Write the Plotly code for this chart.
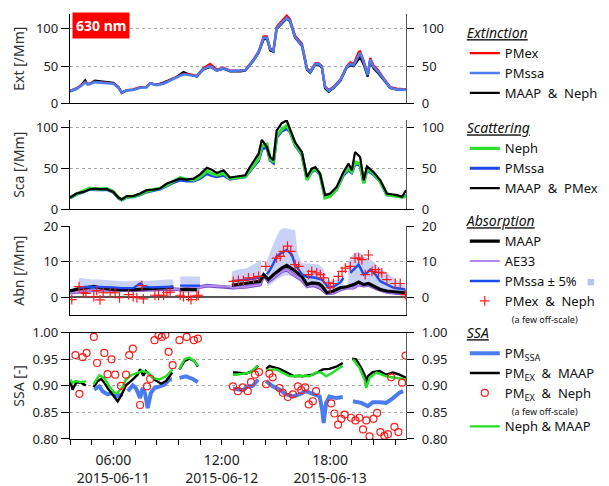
import pandas as pd
import plotly.graph_objects as go

# ---------------- data (time in hours since 2015-06-10 00:00) ----------------
BASE = pd.Timestamp("2015-06-10 00:00")

# Panel 1 - Extinction [/Mm]
ext_hours = [18.0, 19.9, 21.2, 22.2, 22.8, 23.5, 24.9, 26.3, 28.2, 30.0, 31.4, 32.3, 33.7, 35.5,
             37.4, 39.2, 40.2, 42.0, 43.9, 45.7, 47.5, 49.4, 51.2, 53.1, 54.9, 56.8, 58.6, 60.5,
             62.3, 65.1, 66.5, 68.8, 70.2, 71.6, 72.5, 73.4, 74.3, 75.2, 76.6, 78.0, 78.9, 80.3,
             82.2, 83.6, 84.5, 85.9, 86.8, 87.7, 88.6, 89.6, 90.9, 92.8, 94.6, 95.6, 96.5, 97.9,
             98.3, 99.3, 100.4, 101.1, 102.0, 103.4, 104.8, 106.6, 108.5, 110.3, 111.0]
ext_pmex = [17, 20.5, 25, 28.5, 27, 26.5, 29, 28.5, 28, 27, 21.5, 15, 18, 18.5, 22, 22, 27.5, 25,
            27, 31.5, 35.5, 39.5, 39, 37, 47.5, 53, 45.5, 48, 44, 44, 45, 59, 70, 90, 90, 74, 71,
            103, 111, 118, 113, 91, 80, 47, 43, 54, 54, 50, 23, 18, 22, 32, 50, 55, 53, 69, 70,
            57, 39, 61, 51, 44, 34, 22, 20, 19, 19]
ext_pmssa = [16.5, 20, 24, 28, 26.5, 25.8, 28.5, 28, 27.5, 26.5, 21, 14.5, 17.5, 18, 21, 21.5, 27,
             24.5, 26.5, 31, 35, 39, 38, 36.5, 46, 50, 44.5, 47, 43.5, 43.5, 44.5, 58, 69, 88, 88,
             73, 70, 101, 108, 115, 111, 89, 78, 46, 42, 53, 53, 49, 22, 17, 21, 31, 49, 53, 51,
             66, 68, 55, 38, 59, 49, 42, 33, 21, 18.7, 18.5, 18.5]
ext_maap_neph = [16, 19.5, 25, 31, 25.5, 26, 30.5, 29.5, 29, 27.5, 22, 14, 17.5, 18.5, 21.5, 22,
                 26.5, 25, 28, 32, 35.5, 42, 38.5, 36, 45.5, 49, 44, 46.5, 43, 43, 44, 57.5, 68,
                 86, 87, 71, 69, 100, 107, 114, 110, 88, 77, 45, 41, 52, 52, 48, 20, 15.5, 20.5,
                 30, 48, 51, 50, 60, 62, 52, 36, 57, 47, 40, 32, 20.5, 18.5, 18.5, 18.5]

# Panel 2 - Scattering [/Mm]
sca_hours = [18.0, 19.8, 21.7, 23.5, 24.9, 26.3, 28.2, 30.0, 31.4, 32.3, 33.7, 35.5, 37.4, 39.2,
             41.1, 42.9, 44.8, 46.6, 48.5, 50.3, 52.2, 54.0, 55.9, 57.2, 58.6, 60.5, 62.3, 63.2,
             66.5, 67.8, 69.2, 70.2, 71.1, 72.5, 73.4, 74.3, 75.2, 76.6, 78.0, 78.9, 80.3, 82.2,
             83.6, 84.9, 85.9, 87.2, 88.6, 90.0, 91.8, 93.7, 95.1, 96.0, 96.9, 98.3, 99.3, 100.2,
             102.0, 103.9, 105.7, 108.5, 109.9, 111.0]
sca_neph = [14.6, 19, 22.5, 26, 25, 25.5, 25.5, 22, 14.6, 12, 15.5, 16, 18.5, 22.5, 24, 26, 30, 34,
            39, 37, 36, 40, 47, 44, 42, 44, 38, 38.5, 40.5, 48, 57, 62, 78, 80, 62, 58, 90, 98,
            103, 96, 80, 68, 36, 47, 50, 44, 14, 16, 25, 44, 50, 46, 58, 56, 32, 50, 44, 34, 18,
            16.5, 15, 16]
sca_pmssa = [14, 18.5, 21.5, 25, 24, 24.5, 24.5, 21, 14, 11.5, 15, 15.5, 18, 21.5, 23, 25, 29, 33,
             36, 35, 35, 38, 44, 41.5, 40, 42, 37, 38, 40, 47, 55, 60, 74, 76, 60, 57, 88, 96, 99,
             95, 79, 67, 37, 46, 49, 43, 15, 16.5, 25, 42, 48, 45, 56, 54, 33, 48, 43, 34, 18,
             16.5, 15.5, 17]
sca_maap_pmex = [14.6, 19.5, 21.5, 24.8, 25.6, 24.8, 24.8, 21.5, 14.6, 12.2, 16.3, 16.3, 19.5,
                 23.6, 24.4, 25.6, 31.7, 35, 37.8, 36.6, 37.8, 43, 51.2, 48.8, 44.7, 48, 39,
                 39.8, 41.9, 52, 62, 68.3, 85.4, 76.4, 64.2, 60.2, 96.7, 105.7, 109, 98.8, 82.5,
                 70.3, 39.8, 50, 52, 43.9, 17.5, 19.5, 27.6, 45.9, 56.1, 48, 70.3, 64.2, 35.8,
                 52.8, 45.9, 35.8, 19.5, 17.5, 15.4, 23.6]

# Panel 3 - Absorption [/Mm]  (hour, value); None = data gap
abs_maap = [(18.0, 1.8), (20.3, 2.4), (22.5, 2.7), (24.5, 3.1), (26.3, 2.7), (30.0, 2.2),
            (35.5, 2.2), (40.2, 2.4), (44.8, 2.7), (46.6, 2.9), (47.5, None), (48.5, 2.2),
            (53.1, 2.2), (58.0, None), (62.8, 3.4), (66.9, 3.9), (70.6, 4.5), (71.6, 6.4),
            (72.9, 5.0), (74.3, 6.4), (76.6, 8.2), (78.0, 9.0), (79.8, 7.8), (82.2, 5.9),
            (83.6, 3.6), (85.0, 4.1), (86.8, 3.9), (87.7, 3.2), (89.1, 1.3), (90.9, 1.8),
            (92.8, 2.7), (94.6, 3.0), (96.5, 3.6), (97.9, 4.3), (99.3, 3.6), (100.6, 3.9),
            (102.0, 3.2), (103.9, 2.2), (105.7, 1.8), (108.5, 1.5), (110.8, 1.3)]
abs_ae33 = [(18.0, 1.3), (26.3, 2.2), (35.5, 2.0), (44.8, 2.4), (48.5, 2.2), (53.1, 2.7),
            (55.9, 3.3), (59.5, 3.1), (62.3, 3.0), (63.2, 2.7), (66.9, 3.0), (70.6, 3.6),
            (71.6, 6.4), (72.9, 4.5), (74.3, 5.5), (76.6, 7.3), (78.0, 7.8), (79.8, 6.4),
            (82.2, 5.0), (83.6, 3.1), (85.4, 3.4), (87.2, 2.7), (89.1, 1.1), (90.9, 1.3),
            (92.8, 2.2), (94.6, 2.7), (96.5, 2.7), (97.9, 3.6), (99.3, 3.3), (100.6, 3.5),
            (103.0, 2.4), (105.7, 1.5), (108.5, 1.2), (110.8, 1.1)]
abs_pmssa = [(20.5, 2.6), (22.0, 2.9), (24.0, 3.0), (26.3, 2.9), (28.2, 3.0), (30.0, 2.8),
             (32.3, 2.6), (35.5, 2.6), (37.4, 3.9), (38.6, 3.0), (40.2, 2.8), (42.0, 2.9),
             (44.8, 3.0), (46.6, 3.0), (47.5, None), (48.5, 3.3), (50.3, 3.3), (52.2, 3.2),
             (54.0, 3.3), (58.0, None), (62.8, 4.5), (64.6, 4.7), (66.9, 5.0), (69.2, 5.3),
             (70.9, 5.8), (71.7, None), (72.5, 6.5), (73.4, 7.8), (74.3, 9.5), (75.2, 11.5),
             (76.6, 12.5), (78.0, 13.3), (79.4, 12.0), (80.3, 9.2), (81.3, 7.8), (82.2, 6.5),
             (83.6, 5.8), (85.9, 5.5), (87.7, 5.0), (89.6, 2.7), (90.9, 3.0), (92.8, 4.2),
             (93.7, 5.5), (94.6, None), (95.6, 6.9), (97.9, 9.2), (99.3, 6.4), (100.2, 6.9),
             (101.1, 7.8), (102.5, 6.5), (103.9, 4.5), (105.7, 3.6), (107.6, 2.7), (110.8, 2.2)]
# PMssa +/- 5 % uncertainty band: (hour, lower, upper)
abs_band = [(20.5, 1.0, 5.5), (22.0, 1.2, 5.2), (24.0, 1.4, 5.0), (26.3, 1.4, 5.0),
            (28.2, 1.5, 4.8), (30.0, 1.4, 4.6), (32.3, 1.4, 4.5), (35.5, 1.4, 4.5),
            (37.4, 1.6, 4.8), (38.6, 1.5, 4.6), (40.2, 1.5, 4.6), (42.0, 1.6, 4.8),
            (44.8, 1.6, 5.0), (46.6, 1.6, 5.0), (47.5, None, None),
            (48.5, 1.2, 5.9), (50.3, 1.2, 6.0), (52.2, 1.3, 5.9), (54.0, 1.3, 5.8),
            (58.0, None, None),
            (62.8, 2.2, 7.3), (64.6, 2.3, 7.8), (66.9, 2.5, 8.2), (69.2, 2.8, 9.5),
            (70.9, 3.2, 10.5), (71.7, None, None),
            (72.5, 3.0, 10.5), (73.4, 3.5, 12.9), (74.3, 4.2, 15.0), (75.2, 5.0, 17.0),
            (76.2, 5.5, 19.0), (77.1, 6.0, 19.4), (78.0, 6.2, 19.4), (79.4, 6.0, 19.0),
            (80.3, 5.5, 18.9), (81.0, 4.8, 12.5), (82.2, 4.0, 9.6), (83.6, 2.5, 9.6),
            (85.0, 2.8, 9.4), (86.8, 2.6, 9.2), (88.2, 1.8, 8.0), (89.1, 0.9, 5.0),
            (90.0, 0.8, 4.6), (91.8, 1.6, 5.0), (93.7, 2.2, 5.8), (94.6, None, None),
            (95.0, 2.5, 10.0), (96.5, 3.0, 12.4), (97.9, 3.2, 12.9), (99.3, 3.0, 11.5),
            (100.6, 3.0, 11.0), (102.0, 2.6, 10.0), (103.4, 2.2, 8.5), (104.8, 1.8, 7.5),
            (106.6, 1.2, 6.2), (108.5, 0.9, 4.8), (110.8, 0.7, 3.5)]
abs_pmex_neph = [(18.5, -0.6), (20.5, 3.0), (21.7, 1.3), (22.4, 1.1), (24.6, 0.2), (25.4, 1.9),
                 (26.3, -0.7), (27.2, 1.3), (29.1, 1.3), (30.5, 1.3), (31.7, -0.1), (34.2, 0.8),
                 (35.5, 0.2), (36.5, -0.1), (37.9, 3.3), (38.3, -0.4), (41.5, 0.6), (42.5, 0.6),
                 (43.9, 0.6), (44.8, 1.3), (45.7, 1.5), (48.5, 0.6), (49.4, 0.2), (50.8, 0.2),
                 (51.5, -0.6), (53.1, 0.4), (53.5, 0.6), (63.2, 4.5), (64.6, 4.8), (66.0, 4.8),
                 (67.4, 5.5), (68.8, 5.5), (70.2, 5.9), (72.2, 8.7), (75.2, 11.0), (76.2, 11.5),
                 (77.1, 12.9), (78.2, 14.4), (79.1, 12.9), (80.3, 9.2), (81.3, 8.7), (84.0, 6.4),
                 (84.9, 7.3), (86.3, 6.9), (87.3, 6.4), (88.2, 5.5), (89.6, 4.1), (90.0, 2.7),
                 (90.9, 3.9), (92.3, 5.9), (93.3, 7.3), (94.2, 8.2), (95.6, 8.7), (96.9, 11.0),
                 (97.9, 11.0), (98.8, 10.6), (99.7, 6.4), (100.6, 11.9), (101.6, 7.3),
                 (102.5, 7.8), (103.4, 7.0), (104.3, 6.9), (105.7, 5.0), (108.0, 3.9),
                 (109.4, 3.9), (110.8, 0.8)]

# Panel 4 - single scattering albedo [-]
ssa_pm = [(24.7, 0.893), (26.1, 0.899), (27.0, 0.890), (28.4, 0.884), (29.8, 0.887),
          (31.2, 0.881), (32.6, 0.884), (33.3, None), (34.0, 0.890), (35.4, 0.901),
          (36.3, 0.895), (36.9, 0.885), (37.4, 0.877), (38.1, 0.896), (38.8, 0.885),
          (39.5, 0.858), (40.4, 0.887), (41.4, 0.896), (42.7, 0.898), (44.1, 0.902),
          (45.5, 0.912), (46.2, 0.912), (47.2, None), (48.3, 0.915), (50.1, 0.918),
          (52.0, 0.913), (53.4, 0.907), (58.0, None), (63.1, 0.895), (64.5, 0.893),
          (65.8, 0.892), (67.2, 0.899), (68.6, 0.900), (70.1, 0.912), (71.3, None),
          (72.3, 0.909), (74.1, 0.899), (76.0, 0.893), (77.8, 0.884), (79.7, 0.880),
          (81.5, 0.884), (83.3, 0.890), (84.3, 0.887), (85.7, 0.884), (87.1, 0.880),
          (87.8, 0.855), (88.2, 0.830), (88.9, 0.868), (89.8, 0.880), (91.7, 0.877),
          (93.5, 0.879), (94.7, None), (96.3, 0.871), (98.6, 0.868), (100.4, 0.862),
          (101.8, 0.869), (103.7, 0.869), (105.5, 0.868), (107.4, 0.877), (109.2, 0.887),
          (110.2, 0.890)]
ssa_pmex_maap = [(18.0, 0.911), (18.7, 0.893), (19.7, 0.906), (21.0, 0.906), (22.4, 0.901),
                 (23.4, None), (24.5, 0.898), (25.7, 0.909), (26.6, 0.913), (27.5, 0.906),
                 (28.4, 0.896), (29.8, 0.884), (31.2, 0.871), (32.1, 0.881), (33.5, 0.901),
                 (35.4, 0.912), (36.7, 0.921), (37.4, 0.931), (38.3, 0.919), (39.0, 0.928),
                 (40.2, 0.919), (41.4, 0.912), (43.2, 0.904), (44.6, 0.909), (46.3, 0.925),
                 (47.3, None), (48.3, 0.931), (49.7, 0.947), (51.0, 0.951), (52.4, 0.947),
                 (53.4, 0.936), (58.0, None), (63.1, 0.925), (64.0, 0.925), (66.8, 0.923),
                 (68.6, 0.928), (70.0, 0.938), (71.2, None), (72.3, 0.932), (73.2, 0.937),
                 (76.0, 0.932), (78.8, 0.923), (80.1, 0.918), (81.5, 0.919), (82.4, 0.918),
                 (85.2, 0.921), (88.0, 0.931), (89.8, 0.932), (91.7, 0.936), (93.5, 0.943),
                 (94.8, None), (96.1, 0.951), (97.2, 0.950), (98.6, 0.934), (99.5, 0.921),
                 (100.0, 0.906), (100.4, 0.918), (101.8, 0.926), (103.7, 0.928), (105.5, 0.921),
                 (107.4, 0.925), (109.2, 0.921), (111.0, 0.915)]
ssa_neph_maap = [(18.0, 0.912), (18.7, 0.906), (19.7, 0.909), (21.0, 0.907), (22.4, 0.909),
                 (23.4, None), (24.5, 0.903), (26.1, 0.920), (27.5, 0.915), (28.9, 0.899),
                 (30.3, 0.887), (31.2, 0.887), (32.6, 0.899), (33.5, 0.912), (34.9, 0.920),
                 (36.7, 0.925), (38.1, 0.928), (39.5, 0.925), (40.9, 0.915), (42.7, 0.912),
                 (44.6, 0.918), (46.4, 0.931), (47.3, None), (48.3, 0.932), (49.7, 0.950),
                 (51.0, 0.953), (52.4, 0.947), (53.4, 0.937), (58.0, None), (63.1, 0.921),
                 (64.0, 0.921), (67.7, 0.925), (69.5, 0.934), (70.0, 0.938), (71.2, None),
                 (72.3, 0.930), (75.1, 0.931), (78.8, 0.918), (81.5, 0.919), (84.3, 0.918),
                 (86.1, 0.925), (87.5, 0.925), (88.9, 0.918), (90.7, 0.925), (93.5, 0.938),
                 (94.8, None), (96.3, 0.950), (98.1, 0.934), (99.5, 0.912), (100.0, 0.896),
                 (100.9, 0.915), (102.8, 0.925), (105.5, 0.918), (108.3, 0.915), (111.0, 0.912)]
ssa_pmex_neph = [(19.5, 0.958), (20.6, 0.885), (21.5, 0.954), (22.6, 0.962), (24.6, 0.992),
                 (25.5, 0.943), (27.5, 0.962), (28.4, 0.922), (29.5, 0.950), (30.5, 0.921),
                 (32.1, 0.900), (33.5, 0.921), (34.4, 0.958), (35.4, 0.970), (37.4, 0.864),
                 (39.3, 0.899), (40.2, 0.913), (41.4, 0.986), (42.5, 0.995), (43.4, 0.992),
                 (44.4, 0.996), (45.3, 0.964), (46.4, 0.939), (48.3, 0.986), (50.3, 0.992),
                 (52.3, 0.986), (53.4, 0.989), (63.1, 0.899), (64.5, 0.890), (65.8, 0.897),
                 (67.2, 0.890), (68.1, 0.907), (69.2, 0.921), (70.3, 0.926), (72.3, 0.903),
                 (73.2, 0.923), (74.1, 0.916), (76.0, 0.896), (76.9, 0.887), (78.3, 0.879),
                 (79.7, 0.884), (81.1, 0.899), (82.0, 0.892), (83.1, 0.897), (84.1, 0.865),
                 (85.2, 0.871), (86.1, 0.890), (90.3, 0.867), (91.2, 0.848), (92.2, 0.827),
                 (93.1, 0.838), (94.0, 0.846), (95.8, 0.840), (97.0, 0.835), (98.1, 0.840),
                 (99.1, 0.818), (100.0, 0.835), (100.9, 0.805), (102.0, 0.838), (103.0, 0.849),
                 (103.9, 0.813), (105.0, 0.806), (106.0, 0.809), (106.9, 0.916), (107.8, 0.823),
                 (108.9, 0.813), (109.9, 0.906), (110.9, 0.957)]

x_range_hours = [18.0, 111.0]
label_hours = [30, 60, 90]
label_texts = ["06:00<br>2015-06-11", "12:00<br>2015-06-12", "18:00<br>2015-06-13"]
minor_tick_step_hours = 6


# ---------------- helpers ----------------
def t(h):
    return None if h is None else BASE + pd.Timedelta(hours=h)


def ts(hours):
    return [t(h) for h in hours]


def unzip(pairs):
    return [t(p[0]) for p in pairs], [p[1] for p in pairs]


def band_polygon(rows):
    xs, ys, seg = [], [], []
    for r in rows + [(None, None, None)]:
        if r[1] is None:
            if seg:
                xs += [t(s[0]) for s in seg] + [t(s[0]) for s in reversed(seg)] + [None]
                ys += [s[2] for s in seg] + [s[1] for s in reversed(seg)] + [None]
            seg = []
        else:
            seg.append(r)
    return xs, ys


FONT = "Noto Sans"
RED = "#ff1a1a"
NB = "\u00a0"
OFFSCALE = f"<br><span style='font-size:9px'>{NB * 3}(a few off-scale)</span>"
fig = go.Figure()


def line(x, y, name, color, width, xa, ya, legend, rank, show=True):
    fig.add_trace(go.Scatter(x=x, y=y, mode="lines", name=name, xaxis=xa, yaxis=ya,
                             line=dict(color=color, width=width),
                             legend=legend, legendrank=rank, showlegend=show,
                             connectgaps=False, hoverinfo="skip"))


# Panel 1: Extinction
line(ts(ext_hours), ext_maap_neph, f"MAAP{NB*2}&{NB*2}Neph", "#000000", 2.2, "x", "y", "legend", 3)
line(ts(ext_hours), ext_pmex, "PMex", "#ff0000", 2.2, "x", "y", "legend", 1)
line(ts(ext_hours), ext_pmssa, "PMssa", "#4c7df0", 2.6, "x", "y", "legend", 2)

# Panel 2: Scattering
line(ts(sca_hours), sca_pmssa, "PMssa", "#1c44ea", 3.0, "x2", "y2", "legend2", 2)
line(ts(sca_hours), sca_neph, "Neph", "#2ee02e", 3.2, "x2", "y2", "legend2", 1)
line(ts(sca_hours), sca_maap_pmex, f"MAAP{NB*2}&{NB*2}PMex", "#000000", 2.2, "x2", "y2", "legend2", 3)

# Panel 3: Absorption
bx, by = band_polygon(abs_band)
fig.add_trace(go.Scatter(x=bx, y=by, mode="lines", fill="toself", fillcolor="#c9d1f7",
                         line=dict(width=0, color="#c9d1f7"), xaxis="x3", yaxis="y3",
                         showlegend=False, hoverinfo="skip"))
ax, ay = unzip(abs_ae33)
line(ax, ay, "AE33 outline", "#7a4cc4", 3.6, "x3", "y3", "legend3", 9, show=False)
line(ax, ay, "AE33", "#b48af2", 2.0, "x3", "y3", "legend3", 2)
mx, my = unzip(abs_maap)
line(mx, my, "MAAP", "#000000", 3.2, "x3", "y3", "legend3", 1)
px, py = unzip(abs_pmssa)
line(px, py, f"PMssa ± 5%{NB*3}<span style='color:#b8c2f2'>■</span>", "#1a4cf0", 2.4,
     "x3", "y3", "legend3", 3)
cx, cy = unzip(abs_pmex_neph)
fig.add_trace(go.Scatter(x=cx, y=cy, mode="markers", xaxis="x3", yaxis="y3",
                         name=f"PMex{NB*2}&{NB*2}Neph" + OFFSCALE,
                         marker=dict(symbol="cross-thin", size=7, color=RED,
                                     line=dict(color=RED, width=1.2)),
                         legend="legend3", legendrank=4, hoverinfo="skip"))

# Panel 4: SSA
sx, sy = unzip(ssa_pm)
line(sx, sy, "PM<sub>SSA</sub>", "#4a7cf0", 4.0, "x4", "y4", "legend4", 1)
kx, ky = unzip(ssa_pmex_maap)
line(kx, ky, f"PM<sub>EX</sub>{NB*2}&{NB*2}MAAP", "#000000", 2.4, "x4", "y4", "legend4", 2)
gx, gy = unzip(ssa_neph_maap)
line(gx, gy, "Neph & MAAP", "#22e022", 2.4, "x4", "y4", "legend5", 4)
ox, oy = unzip(ssa_pmex_neph)
fig.add_trace(go.Scatter(x=ox, y=oy, mode="markers", xaxis="x4", yaxis="y4",
                         name=f"PM<sub>EX</sub>{NB*2}&{NB*2}Neph" + OFFSCALE,
                         marker=dict(symbol="circle-open", size=7, color=RED, line=dict(width=1.2)),
                         legend="legend4", legendrank=3, hoverinfo="skip"))

# ---------------- axes ----------------
doms = {1: [0.7897, 1.0], 2: [0.5401, 0.7504], 3: [0.2913, 0.5008], 4: [0.0, 0.2501]}
yranges = {1: [0, 120], 2: [0, 109.5], 3: [-5, 20], 4: [0.8, 1.0]}
yticks = {1: [0, 50, 100], 2: [0, 50, 100], 3: [0, 10, 20], 4: [0.80, 0.85, 0.90, 0.95, 1.00]}
ytitles = {1: "Ext [/Mm]", 2: "Sca [/Mm]", 3: "Abn [/Mm]", 4: "SSA [-]"}
ystandoff = {1: 8, 2: 8, 3: 15, 4: 4}
ytickfont = dict(family=FONT, size=13, color="#222222")
xtickfont = dict(family=FONT, size=14, color="#222222")
xr = [t(x_range_hours[0]), t(x_range_hours[1])]

lay = {}
for i in range(1, 5):
    xs = "" if i == 1 else str(i)
    common_x = dict(domain=[0, 1], anchor="y" + xs, range=xr, showgrid=False, zeroline=False,
                    showline=True, linecolor="#000000", linewidth=1.3, automargin=False)
    if i < 4:
        common_x.update(showticklabels=False, ticks="")
    else:
        common_x.update(tickmode="array", tickvals=ts(label_hours), ticktext=label_texts,
                        ticks="outside", ticklen=5, tickwidth=1.2, tickcolor="#000000",
                        mirror=True, tickfont=xtickfont, ticklabelstandoff=3,
                        minor=dict(dtick=minor_tick_step_hours * 3600 * 1000,
                                   tick0=str(t(x_range_hours[0])), ticks="outside",
                                   ticklen=5, tickwidth=1.2, tickcolor="#000000",
                                   showgrid=False))
    if i > 1:
        common_x["matches"] = "x"
    lay["xaxis" + xs] = common_x

    ycommon = dict(range=yranges[i], tickmode="array", tickvals=yticks[i],
                   ticks="outside", tickwidth=1.2, tickcolor="#000000",
                   tickfont=ytickfont, showline=True, linewidth=1.3, automargin=False)
    if i == 4:
        ycommon["tickformat"] = ".2f"
    left = dict(ycommon, domain=doms[i], anchor="x" + xs, linecolor="#000000", ticklen=8,
                showgrid=True, gridcolor="#a8a8a8", griddash="dot", gridwidth=1,
                zeroline=(i == 3), zerolinecolor="#555555", zerolinewidth=1.5,
                title=dict(text=ytitles[i], font=dict(family=FONT, size=14, color="#333333"),
                           standoff=ystandoff[i]))
    lay["yaxis" + xs] = left
    lay["yaxis" + str(i + 4)] = dict(ycommon, overlaying="y" + xs, side="right", ticklen=7,
                                     ticklabelstandoff=5,
                                     anchor="x" + xs, showgrid=False, zeroline=False,
                                     linecolor="#555555")
    fig.add_trace(go.Scatter(x=[], y=[], xaxis="x" + xs, yaxis="y" + str(i + 4),
                             showlegend=False, hoverinfo="skip"))


def legend_cfg(title, ytop):
    cfg = dict(x=1.175, xanchor="left", y=ytop, yanchor="top", bgcolor="rgba(0,0,0,0)",
               font=dict(family=FONT, size=13, color="#111111"), tracegroupgap=0,
               itemwidth=30, valign="top", traceorder="normal")
    if title:
        cfg["title"] = dict(text=f"<i><u>{title}</u></i>",
                            font=dict(family=FONT, size=14, color="#111111"))
    return cfg


fig.update_layout(
    width=609, height=486,
    margin=dict(l=70, r=203, t=14, b=47.3, autoexpand=False),
    paper_bgcolor="white", plot_bgcolor="white",
    font=dict(family=FONT, size=14, color="#222222"),
    legend=legend_cfg("Extinction", 0.986),
    legend2=legend_cfg("Scattering", 0.762),
    legend3=legend_cfg("Absorption", 0.5434),
    legend4=legend_cfg("SSA", 0.280),
    legend5=legend_cfg(None, 0.065),
    annotations=[dict(text="<b>630 nm</b>", xref="x domain", yref="y domain", x=0.005, y=1.0,
                      xanchor="left", yanchor="top", yshift=2, showarrow=False,
                      font=dict(family=FONT, size=14, color="white"), bgcolor="#ff0000",
                      borderpad=3)],
    **lay,
)

fig.write_html("out.html", config={"displayModeBar": False},
               post_script="document.body.style.margin='0px';")
